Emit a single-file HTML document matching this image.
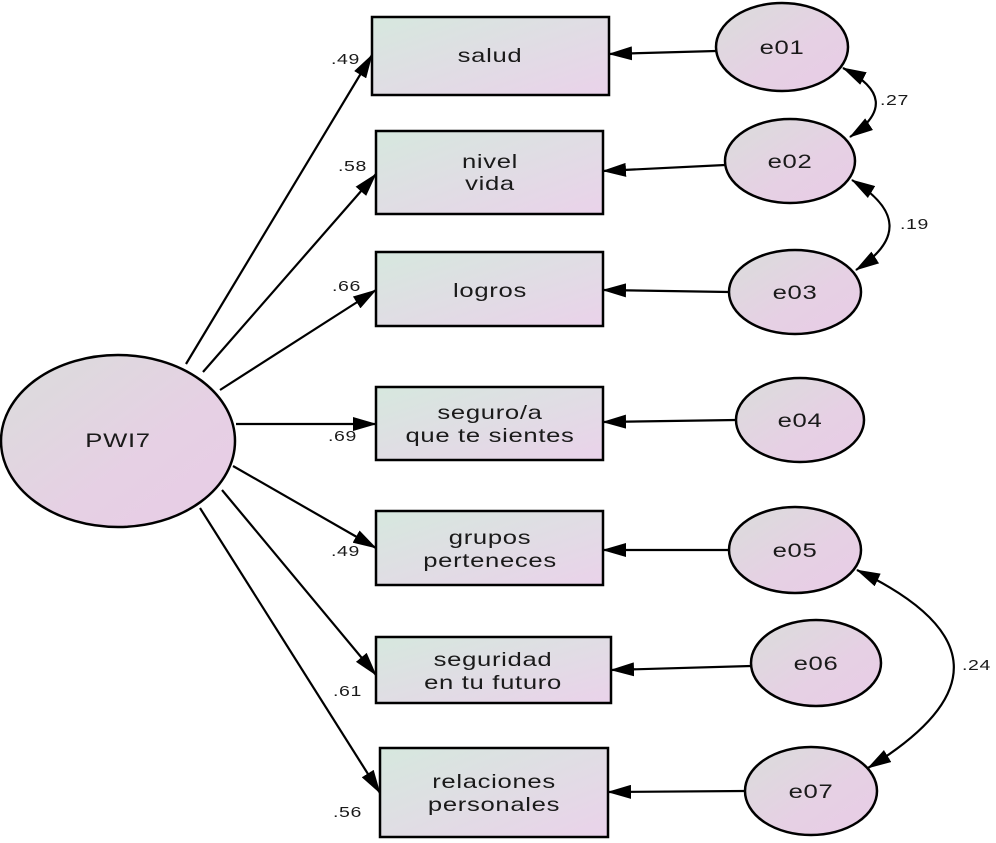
<!DOCTYPE html>
<html><head><meta charset="utf-8"><style>
html,body{margin:0;padding:0;background:#fff;}
svg{display:block;}
text{font-family:"Liberation Sans",sans-serif;fill:#1a1a1a;}
</style></head><body>
<svg width="996" height="843" viewBox="0 0 996 843" xmlns="http://www.w3.org/2000/svg">
<defs>
<linearGradient id="gr" x1="0" y1="0" x2="1" y2="1">
<stop offset="0" stop-color="#d6e8de"/><stop offset="1" stop-color="#ead2ea"/>
</linearGradient>
<linearGradient id="ge" x1="0" y1="0" x2="1" y2="1">
<stop offset="0" stop-color="#dadddb"/><stop offset="0.6" stop-color="#e6d0e4"/><stop offset="1" stop-color="#e8cce6"/>
</linearGradient>
<marker id="b" markerWidth="24" markerHeight="14" refX="23" refY="7" orient="auto-start-reverse" markerUnits="userSpaceOnUse" viewBox="0 0 24 14">
<path d="M0,0 L24,7 L0,14 z" fill="#000"/></marker>
</defs>
<g stroke="#000" stroke-width="2.5" fill="url(#gr)">
<rect x="372" y="17" width="237" height="78"/>
<rect x="376" y="131" width="227" height="83"/>
<rect x="376" y="252" width="227" height="74"/>
<rect x="376" y="387" width="227" height="73"/>
<rect x="376" y="511" width="227" height="74"/>
<rect x="376" y="637" width="235" height="66"/>
<rect x="380" y="748" width="228" height="89"/>
</g>
<g stroke="#000" stroke-width="2.5" fill="url(#ge)">
<ellipse cx="118" cy="441" rx="117" ry="86"/>
<ellipse cx="782" cy="47" rx="66" ry="44"/>
<ellipse cx="790" cy="161" rx="65" ry="42"/>
<ellipse cx="795" cy="292" rx="66" ry="42"/>
<ellipse cx="800" cy="420" rx="64" ry="42"/>
<ellipse cx="795" cy="550" rx="66" ry="43"/>
<ellipse cx="816" cy="663" rx="65" ry="43"/>
<ellipse cx="811" cy="791" rx="66" ry="44"/>
</g>
<g stroke="#000" stroke-width="2.2" fill="none">
<line x1="186" y1="364" x2="372" y2="55" marker-end="url(#b)"/>
<line x1="203" y1="372" x2="376" y2="174" marker-end="url(#b)"/>
<line x1="220" y1="390" x2="376" y2="290" marker-end="url(#b)"/>
<line x1="236" y1="424" x2="376" y2="424" marker-end="url(#b)"/>
<line x1="233" y1="466" x2="376" y2="548" marker-end="url(#b)"/>
<line x1="222" y1="490" x2="376" y2="675" marker-end="url(#b)"/>
<line x1="200" y1="508" x2="380" y2="793" marker-end="url(#b)"/>
<line x1="716" y1="51" x2="609" y2="54" marker-end="url(#b)"/>
<line x1="725" y1="165" x2="603" y2="171" marker-end="url(#b)"/>
<line x1="729" y1="292" x2="603" y2="290" marker-end="url(#b)"/>
<line x1="736" y1="420" x2="603" y2="422" marker-end="url(#b)"/>
<line x1="729" y1="550" x2="603" y2="550" marker-end="url(#b)"/>
<line x1="751" y1="666" x2="611" y2="670" marker-end="url(#b)"/>
<line x1="745" y1="791" x2="608" y2="792" marker-end="url(#b)"/>
<path d="M843,68 Q905,100 850,137" marker-start="url(#b)" marker-end="url(#b)"/>
<path d="M852,180 Q925,225 856,270" marker-start="url(#b)" marker-end="url(#b)"/>
<path d="M857,570 Q1045,660 868,768" marker-start="url(#b)" marker-end="url(#b)"/>
</g>
<g font-size="19" text-anchor="middle" letter-spacing="0.5">
<text transform="translate(490,62) scale(1.35,1)">salud</text>
<text transform="translate(490,168) scale(1.35,1)">nivel</text><text transform="translate(490,190) scale(1.35,1)">vida</text>
<text transform="translate(490,297) scale(1.35,1)">logros</text>
<text transform="translate(490,419) scale(1.35,1)">seguro/a</text><text transform="translate(490,442) scale(1.35,1)">que te sientes</text>
<text transform="translate(490,544) scale(1.35,1)">grupos</text><text transform="translate(490,567) scale(1.35,1)">perteneces</text>
<text transform="translate(493,666) scale(1.35,1)">seguridad</text><text transform="translate(493,689) scale(1.35,1)">en tu futuro</text>
<text transform="translate(494,788) scale(1.35,1)">relaciones</text><text transform="translate(494,811) scale(1.35,1)">personales</text>
<text transform="translate(118,447) scale(1.35,1)">PWI7</text>
<text transform="translate(782,54) scale(1.35,1)">e01</text>
<text transform="translate(790,168) scale(1.35,1)">e02</text>
<text transform="translate(795,299) scale(1.35,1)">e03</text>
<text transform="translate(800,427) scale(1.35,1)">e04</text>
<text transform="translate(795,557) scale(1.35,1)">e05</text>
<text transform="translate(816,670) scale(1.35,1)">e06</text>
<text transform="translate(811,798) scale(1.35,1)">e07</text>
</g>
<g font-size="15" fill="#333" letter-spacing="0.5">
<text transform="translate(331,64) scale(1.3,1)">.49</text>
<text transform="translate(338,171) scale(1.3,1)">.58</text>
<text transform="translate(332,291) scale(1.3,1)">.66</text>
<text transform="translate(328,441) scale(1.3,1)">.69</text>
<text transform="translate(331,556) scale(1.3,1)">.49</text>
<text transform="translate(333,696) scale(1.3,1)">.61</text>
<text transform="translate(333,817) scale(1.3,1)">.56</text>
<text transform="translate(880,105) scale(1.3,1)">.27</text>
<text transform="translate(900,229) scale(1.3,1)">.19</text>
<text transform="translate(962,670) scale(1.3,1)">.24</text>
</g>
</svg>
</body></html>
